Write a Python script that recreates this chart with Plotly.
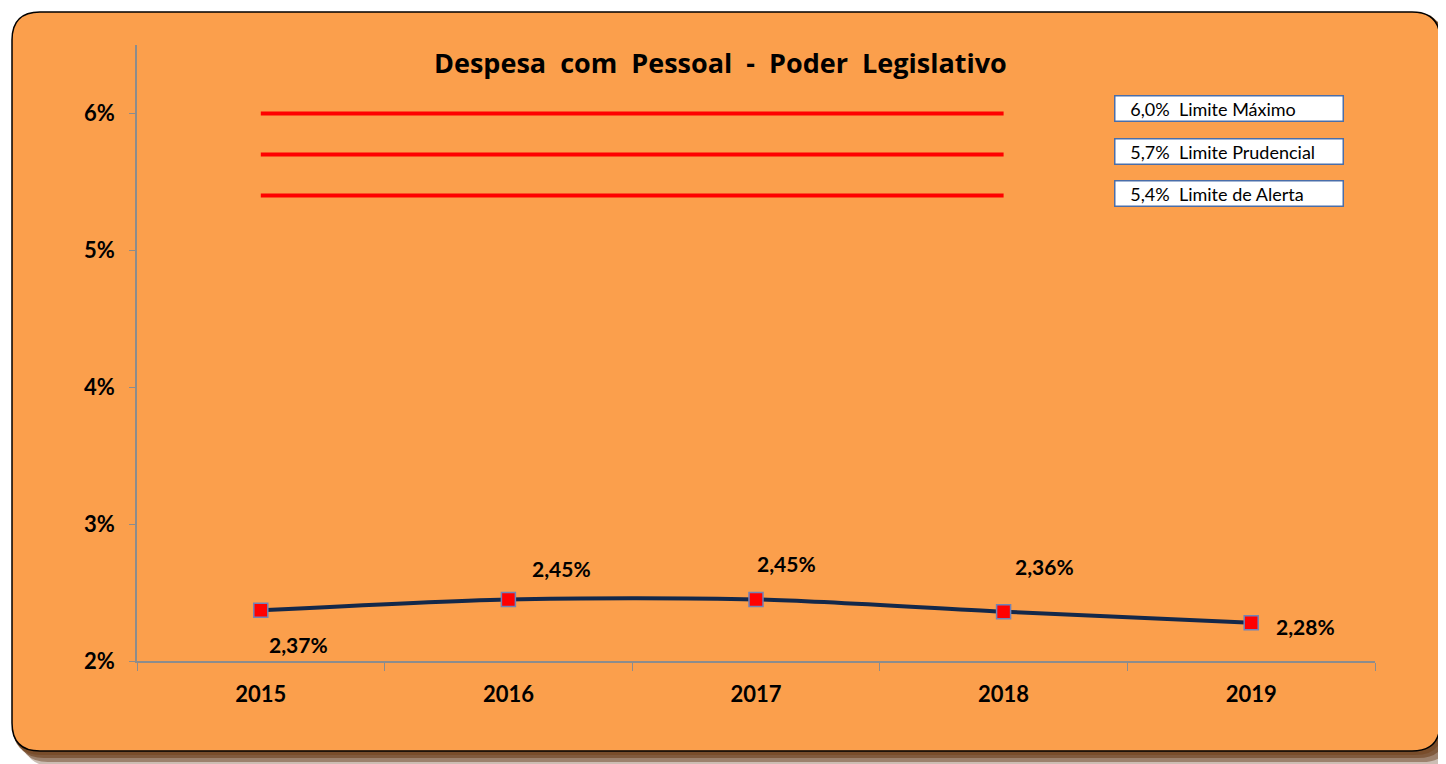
import plotly.graph_objects as go

# ---- data ----
years = ["2015", "2016", "2017", "2018", "2019"]
despesa = [2.37, 2.45, 2.45, 2.36, 2.28]
limit_years = ["2015", "2018"]
limites = [6.0, 5.7, 5.4]
limite_labels = ["6,0%  Limite Máximo", "5,7%  Limite Prudencial", "5,4%  Limite de Alerta"]
y_ticks = [2, 3, 4, 5, 6]
title_text = "Despesa  com  Pessoal  -  Poder  Legislativo"

# label offsets (px) relative to each point
label_dx = [38, 53, 30, 41, 54]
label_dy = [-34, 31, 36, 45, -4]

OFF = 8  # page body margin
PW, PH = 1446, 764
W, H = PW - OFF, PH - OFF
L, R, T, B = 137, 1375, 45, 661  # plot area in page pixels
FONT = "Lato"


def px(x):
    return (x - L) / (R - L)


def py(y):
    return (B - y) / (B - T)


def rounded(x0, y0, x1, y1, r):
    pts = [
        f"M{px(x0 + r)},{py(y0)}",
        f"L{px(x1 - r)},{py(y0)}",
        f"Q{px(x1)},{py(y0)} {px(x1)},{py(y0 + r)}",
        f"L{px(x1)},{py(y1 - r)}",
        f"Q{px(x1)},{py(y1)} {px(x1 - r)},{py(y1)}",
        f"L{px(x0 + r)},{py(y1)}",
        f"Q{px(x0)},{py(y1)} {px(x0)},{py(y1 - r)}",
        f"L{px(x0)},{py(y0 + r)}",
        f"Q{px(x0)},{py(y0)} {px(x0 + r)},{py(y0)}",
        "Z",
    ]
    return " ".join(pts)


fig = go.Figure()

for v in limites:
    fig.add_trace(go.Scatter(
        x=limit_years, y=[v, v], mode="lines",
        line=dict(color="#ff0000", width=4), hoverinfo="skip", showlegend=False,
    ))

fig.add_trace(go.Scatter(
    x=years, y=despesa, mode="lines+markers",
    line=dict(color="#13284a", width=4, shape="spline", smoothing=0.8),
    marker=dict(symbol="square", size=14, color="#ff0000",
                line=dict(color="#7083b8", width=1.5)),
    showlegend=False,
))

shapes = []
for off, col in [(14, "rgba(110,70,40,0.35)"), (10, "rgba(110,70,40,0.5)"),
                 (6, "rgba(115,72,40,0.7)"), (3, "rgba(120,75,40,0.85)")]:
    shapes.append(dict(type="path", xref="paper", yref="paper", layer="below",
                       path=rounded(12 + off - 2, 12 + off - 2, 1440 + off, 752 + off, 28),
                       fillcolor=col, line=dict(width=0)))
shapes.append(dict(type="path", xref="paper", yref="paper", layer="below",
                   path=rounded(12, 12, 1440, 751, 28),
                   fillcolor="#fb9f4c", line=dict(color="#000000", width=1.5)))

annotations = []
annotations.append(dict(
    x=px(720), y=py(62), xref="paper", yref="paper",
    text="<b>" + title_text.replace(" ", "\u00a0") + "</b>",
    showarrow=False, font=dict(family="Open Sans", size=27, color="#000000"),
    xanchor="center", yanchor="middle",
))

for i, (v, lab) in enumerate(zip(limites, limite_labels)):
    cy = [108, 151, 193][i]
    annotations.append(dict(
        x=px(1114), y=py(cy), xref="paper", yref="paper",
        text="\u00a0\u00a0\u00a0" + lab.replace(" ", "\u00a0"), showarrow=False, align="left",
        xanchor="left", yanchor="middle", width=225, height=22,
        bgcolor="#ffffff", bordercolor="#4a6ea9", borderwidth=1.5, borderpad=1,
        font=dict(family=FONT, size=18, color="#000000"),
    ))

for i, v in enumerate(despesa):
    annotations.append(dict(
        x=i, y=v, xref="x", yref="y",
        text="<b>" + f"{v:.2f}%".replace(".", ",") + "</b>",
        showarrow=False, xshift=label_dx[i], yshift=label_dy[i],
        font=dict(family=FONT, size=21, color="#000000"),
    ))

fig.update_layout(
    width=W, height=H,
    margin=dict(l=L - OFF, r=PW - R, t=T - OFF, b=PH - B, pad=0),
    paper_bgcolor="#ffffff", plot_bgcolor="rgba(0,0,0,0)",
    shapes=shapes, annotations=annotations,
    xaxis=dict(type="category", categoryorder="array", categoryarray=years,
               range=[-0.5, 4.5], showgrid=False, zeroline=False,
               showline=True, linecolor="#8c8c8c", linewidth=1.5,
               ticks="outside", tickson="boundaries", ticklen=8, tickcolor="#8c8c8c",
               tickvals=years, ticktext=[f"<b>{y}</b>" for y in years],
               tickfont=dict(family=FONT, size=22, color="#000000"),
               ticklabelstandoff=13),
    yaxis=dict(range=[2, 6.5], tickvals=y_ticks, ticktext=[f"<b>{t}%</b>" for t in y_ticks],
               showgrid=False, zeroline=False,
               showline=True, linecolor="#8c8c8c", linewidth=1.5,
               ticks="outside", ticklen=6, tickcolor="#8c8c8c",
               tickfont=dict(family=FONT, size=22, color="#000000"),
               ticklabelstandoff=10),
)

fig.write_html("out.html")
